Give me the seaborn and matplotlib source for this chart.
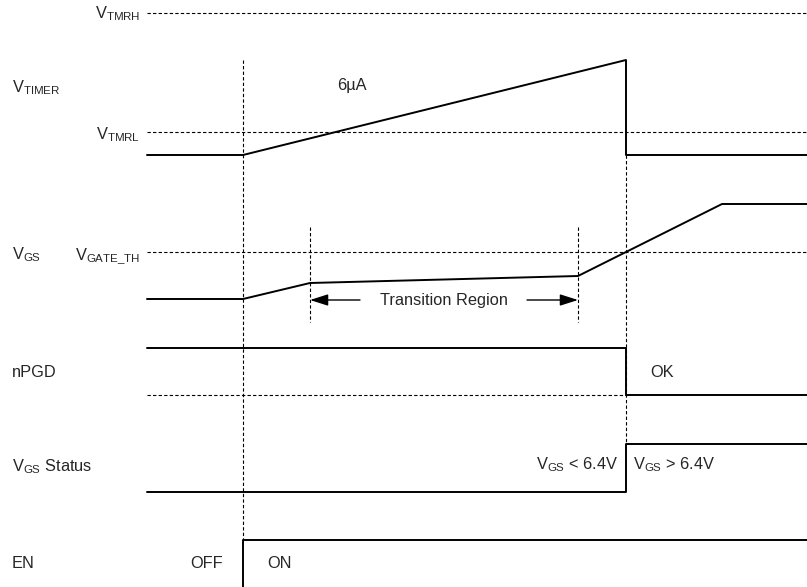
import matplotlib
matplotlib.use("Agg")
import matplotlib.pyplot as plt
import seaborn as sns

# time axis positions (diagram units, same scale as the drawing)
t_begin = 147
t_en = 243          # EN goes ON
t_plateau = 310     # start of transition region
t_plateau_end = 578 # end of transition region
t_done = 626        # V_GS crosses V_GATE_TH
t_vgs_top = 722
t_end = 807

# threshold levels (diagram units, y grows downward)
v_tmrh = 13
v_tmrl = 132
v_gate_th = 252
npgd_low = 395

# waveforms
timer_t = [t_begin, t_en, t_done, t_done, t_end]
timer_v = [155, 155, 60, 155, 155]

vgs_t = [t_begin, t_en, t_plateau, t_plateau_end, t_vgs_top, t_end]
vgs_v = [299, 299, 283, 276, 204, 204]

npgd_t = [t_begin, t_done, t_done, t_end]
npgd_v = [348, 348, 395, 395]

status_t = [t_begin, t_done, t_done, t_end]
status_v = [492, 492, 444, 444]

en_t = [t_en, t_en, t_end]
en_v = [587, 540, 540]

sns.set_theme(style="white")
plt.rcParams['font.family'] = ['Liberation Sans', 'DejaVu Sans']
plt.rcParams['mathtext.fontset'] = 'custom'
plt.rcParams['mathtext.rm'] = 'Liberation Sans'
plt.rcParams['mathtext.default'] = 'regular'

fig = plt.figure(figsize=(8.07, 5.87), dpi=100)
ax = fig.add_axes([0, 0, 1, 1])
ax.set_xlim(0, 807)
ax.set_ylim(587, 0)
ax.axis('off')

dash = (0, (3, 2))
# horizontal reference levels
for lvl in [v_tmrh, v_tmrl, v_gate_th]:
    ax.plot([t_begin, t_end], [lvl, lvl], color='black', lw=0.8, ls=dash)
ax.plot([t_begin, t_done], [npgd_low, npgd_low], color='black', lw=0.8, ls=dash)

# vertical time markers
ax.plot([t_en, t_en], [60, 540], color='black', lw=0.8, ls=dash)
ax.plot([t_done, t_done], [155, 444], color='black', lw=0.8, ls=dash)
for t in [t_plateau, t_plateau_end]:
    ax.plot([t, t], [227, 322], color='black', lw=0.8, ls=dash)

# signals
for xs, ys in [(timer_t, timer_v), (vgs_t, vgs_v), (npgd_t, npgd_v),
               (status_t, status_v), (en_t, en_v)]:
    sns.lineplot(x=xs, y=ys, sort=False, estimator=None, color='black',
                 lw=1.4, ax=ax)

# transition region arrows
ap = dict(arrowstyle='-|>,head_length=1.1,head_width=0.35', color='black',
          lw=1.0, mutation_scale=10, shrinkA=0, shrinkB=0)
ax.annotate('', xy=(t_plateau, 300), xytext=(360, 300), arrowprops=ap)
ax.annotate('', xy=(t_plateau_end, 300), xytext=(527, 300), arrowprops=ap)

fs = 11.8
ax.text(444, 300, 'Transition Region', ha='center', va='center', fontsize=fs)

# labels
ax.text(140, 18, r'$V_{TMRH}$', ha='right', va='baseline', fontsize=fs)
ax.text(12, 92, r'$V_{TIMER}$', ha='left', va='baseline', fontsize=fs)
ax.text(140, 139, r'$V_{TMRL}$', ha='right', va='baseline', fontsize=fs)
ax.text(337, 90, '6µA', ha='left', va='baseline', fontsize=fs)
ax.text(12, 259, r'$V_{GS}$', ha='left', va='baseline', fontsize=fs)
ax.text(140, 259, r'$V_{GATE\_TH}$', ha='right', va='baseline', fontsize=fs)
ax.text(12, 377, 'nPGD', ha='left', va='baseline', fontsize=fs)
ax.text(650, 377, 'OK', ha='left', va='baseline', fontsize=fs)
ax.text(12, 471, r'$V_{GS}$ Status', ha='left', va='baseline', fontsize=fs)
ax.text(618, 469, r'$V_{GS}$ < 6.4V', ha='right', va='baseline', fontsize=fs)
ax.text(633, 469, r'$V_{GS}$ > 6.4V', ha='left', va='baseline', fontsize=fs)
ax.text(12, 568, 'EN', ha='left', va='baseline', fontsize=fs)
ax.text(223, 568, 'OFF', ha='right', va='baseline', fontsize=fs)
ax.text(267, 568, 'ON', ha='left', va='baseline', fontsize=fs)

fig.savefig('out.png', dpi=100)
